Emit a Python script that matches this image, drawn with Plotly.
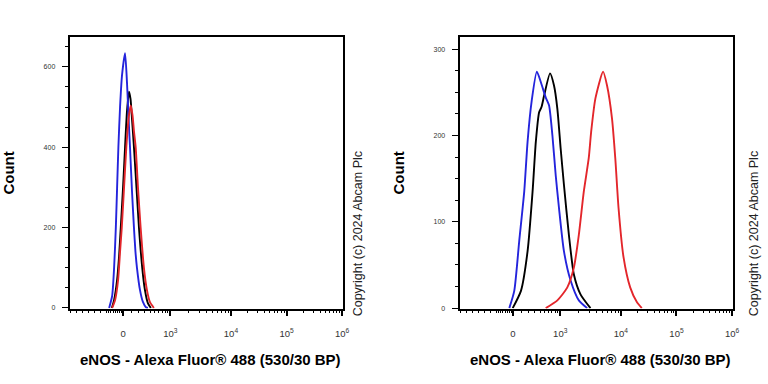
import numpy as np
import plotly.graph_objects as go

# ---- data (x in biexponential display units: 0 -> 0, 1 unit ~ 1 decade) ----
tick_labels = ["0", "10<sup>3</sup>", "10<sup>4</sup>", "10<sup>5</sup>", "10<sup>6</sup>"]
tick_pos = [0.0, 0.85, 1.94, 2.94, 3.94]

left_blue_x = [-0.25, -0.196, -0.161, -0.130, -0.107, -0.084, -0.054, -0.018, 0.036, 0.071,
               0.107, 0.125, 0.161, 0.196, 0.223, 0.25, 0.304, 0.357, 0.411, 0.446]
left_blue_y = [0, 30, 100, 200, 300, 400, 500, 580, 634, 560,
               450, 400, 290, 200, 140, 100, 45, 15, 2, 0]

left_black_x = [-0.202, -0.161, -0.107, -0.071, -0.041, 0.0, 0.036, 0.071, 0.107, 0.134,
                0.161, 0.196, 0.241, 0.286, 0.345, 0.393, 0.446, 0.5]
left_black_y = [0, 20, 70, 130, 200, 300, 400, 490, 538, 520,
                470, 400, 300, 200, 100, 45, 12, 0]

left_red_x = [-0.196, -0.143, -0.089, -0.054, -0.023, 0.018, 0.059, 0.098, 0.1375, 0.170,
              0.196, 0.227, 0.268, 0.316, 0.375, 0.429, 0.482, 0.554]
left_red_y = [0, 20, 70, 140, 200, 300, 400, 470, 504, 480,
              440, 400, 300, 200, 100, 45, 15, 0]

right_blue_x = [-0.066, 0.023, 0.1125, 0.202, 0.2625, 0.334, 0.429, 0.5, 0.589, 0.648,
                0.709, 0.768, 0.827, 0.916, 1.036, 1.184, 1.334]
right_blue_y = [0, 20, 78, 135, 193, 239, 274, 262, 244, 235,
                200, 154, 116, 66, 32, 9, 0]

right_black_x = [-0.005, 0.143, 0.2625, 0.352, 0.411, 0.470, 0.5125, 0.559, 0.666, 0.7375,
                 0.798, 0.857, 0.916, 1.005, 1.095, 1.214, 1.393]
right_black_y = [0, 20, 66, 135, 193, 227, 233, 246, 272, 258,
                 231, 185, 143, 85, 39, 16, 0]

right_red_x = [0.589, 0.798, 0.977, 1.095, 1.184, 1.273, 1.3625, 1.405, 1.482, 1.62,
               1.691, 1.780, 1.839, 1.898, 1.9875, 2.107, 2.227, 2.316]
right_red_y = [0, 9, 24, 47, 85, 135, 174, 204, 243, 274,
               258, 220, 174, 116, 59, 24, 7, 0]

x_title = "eNOS - Alexa Fluor® 488 (530/30 BP)"
y_title = "Count"
copyright_text = "Copyright (c) 2024 Abcam Plc"

BLUE = "#2424dc"
BLACK = "#000000"
RED = "#e3262b"
FONT = "Arial, Liberation Sans, sans-serif"

W, H = 768, 384


def px(x):
    return x / W


def py(y):
    return 1 - y / H


# minor tick positions on the biexponential display scale
minor = [-0.946 + 0.107 * k for k in range(7)]
minor += list(np.arange(-0.26, 0.0, 0.04))
minor += [0.85 * np.arcsinh(v / 300) / np.arcsinh(1000 / 300) for v in range(100, 1000, 100)]
minor += [0.85 + 1.09 * np.log10(k) for k in range(2, 10)]
minor += [1.94 + np.log10(k) for k in range(2, 10)]
minor += [2.94 + np.log10(k) for k in range(2, 10)]

fig = go.Figure()
series = [
    (left_black_x, left_black_y, BLACK, "x", "y"),
    (left_blue_x, left_blue_y, BLUE, "x", "y"),
    (left_red_x, left_red_y, RED, "x", "y"),
    (right_black_x, right_black_y, BLACK, "x2", "y2"),
    (right_blue_x, right_blue_y, BLUE, "x2", "y2"),
    (right_red_x, right_red_y, RED, "x2", "y2"),
]
for xs, ys, col, xa, ya in series:
    fig.add_trace(go.Scatter(x=xs, y=ys, mode="lines", xaxis=xa, yaxis=ya,
                             line=dict(color=col, width=1.9, shape="spline", smoothing=0.6),
                             showlegend=False, hoverinfo="skip"))

xcommon = dict(range=[-0.946, 3.96], showline=True, linecolor="black", linewidth=1.5,
               mirror=True, ticks="outside", ticklen=6, tickwidth=1.5, tickcolor="black",
               tickmode="array", tickvals=tick_pos, ticktext=tick_labels,
               tickfont=dict(family=FONT, size=9.5, color="#333"), ticklabelstandoff=9,
               showgrid=False, zeroline=False,
               minor=dict(tickmode="array", tickvals=minor, ticks="outside", ticklen=3,
                          tickwidth=1.2, tickcolor="black", showgrid=False))
ycommon = dict(showline=True, linecolor="black", linewidth=1.5, mirror=True,
               ticks="outside", ticklen=7, tickwidth=1.2, tickcolor="black",
               tickfont=dict(family=FONT, size=7, color="#333"), ticklabelstandoff=5,
               showgrid=False, zeroline=False)

fig.update_layout(
    width=W, height=H, margin=dict(l=0, r=0, t=0, b=0),
    paper_bgcolor="white", plot_bgcolor="white",
    xaxis=dict(domain=[px(71), px(346)], anchor="y", **xcommon),
    xaxis2=dict(domain=[px(464), px(739)], anchor="y2", **xcommon),
    yaxis=dict(domain=[py(311), py(37)], anchor="x", range=[-1.5, 675], dtick=200,
               minor=dict(dtick=50, ticks="outside", ticklen=4, tickcolor="black", tickwidth=1),
               **ycommon),
    yaxis2=dict(domain=[py(311), py(37)], anchor="x2", range=[-0.5, 314.5], dtick=100,
                minor=dict(dtick=25, ticks="outside", ticklen=4, tickcolor="black", tickwidth=1),
                **ycommon),
)

annos = []
for cx, yx, crx in [(212, 9, 361), (605, 402, 760)]:
    annos.append(dict(x=px(cx), y=py(362), xref="paper", yref="paper", text=f"<b>{x_title}</b>",
                      showarrow=False, font=dict(family=FONT, size=15, color="black"),
                      xanchor="center", yanchor="middle"))
    annos.append(dict(x=px(yx), y=py(174), xref="paper", yref="paper", text=f"<b>{y_title}</b>",
                      showarrow=False, textangle=-90, font=dict(family=FONT, size=15, color="black"),
                      xanchor="center", yanchor="middle"))
    annos.append(dict(x=px(crx), y=py(236), xref="paper", yref="paper", text=copyright_text,
                      showarrow=False, textangle=-90, font=dict(family=FONT, size=12.5, color="#222"),
                      xanchor="center", yanchor="middle"))
fig.update_layout(annotations=annos)

fig.write_html("out.html", config={"displayModeBar": False},
               post_script="document.body.style.margin='0px';document.body.style.padding='0px';")
